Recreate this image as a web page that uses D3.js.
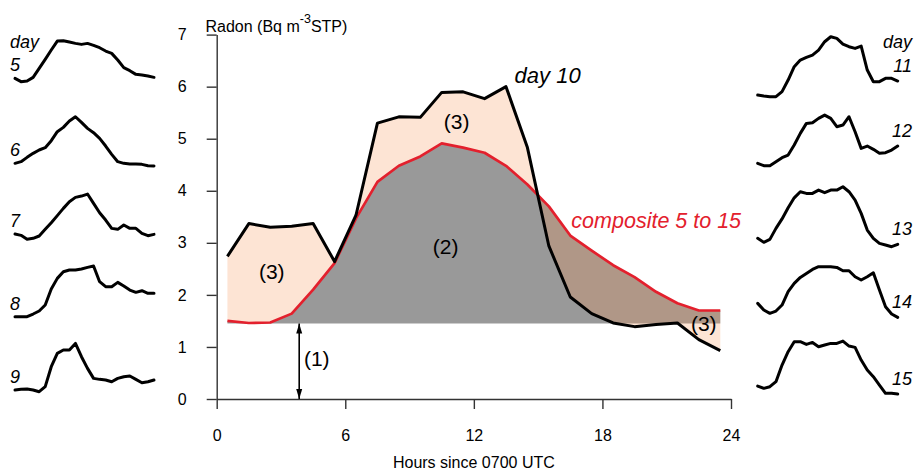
<!DOCTYPE html>
<html>
<head>
<meta charset="utf-8">
<script src="https://cdn.jsdelivr.net/npm/d3@7"></script>
<style>
  body { margin: 0; background: #fff; }
  text { font-family: "Liberation Sans", Arial, Helvetica, sans-serif; }
</style>
</head>
<body>
<svg id="chart" width="916" height="470"></svg>
<script>
// Hourly radon, half-hour centres, hours since 0700 UTC
const hours = [0.5, 1.5, 2.5, 3.5, 4.5, 5.5, 6.5, 7.5, 8.5, 9.5, 10.5, 11.5,
               12.5, 13.5, 14.5, 15.5, 16.5, 17.5, 18.5, 19.5, 20.5, 21.5, 22.5, 23.5];

// Main panel: day 10 and the composite of days 5 to 15 (Bq m-3 STP)
const day10 = [2.74, 3.37, 3.30, 3.32, 3.37, 2.64, 3.53, 5.30, 5.42, 5.41, 5.89, 5.90,
               5.77, 6.00, 4.83, 2.94, 1.96, 1.64, 1.46, 1.39, 1.43, 1.46, 1.14, 0.93];
const composite = [1.50, 1.46, 1.47, 1.64, 2.10, 2.61, 3.47, 4.17, 4.48, 4.66, 4.91, 4.83,
                   4.73, 4.48, 4.12, 3.70, 3.14, 2.85, 2.57, 2.34, 2.06, 1.84, 1.70, 1.70];
const floorLevel = 1.45;   // (1) background level

// Small panels, one series per day
const day5  = [1.41, 1.11, 1.17, 1.50, 2.31, 3.12, 3.96, 4.77, 4.80, 4.68, 4.56, 4.47,
               4.56, 4.38, 4.17, 3.87, 3.66, 3.06, 2.37, 2.10, 1.77, 1.71, 1.62, 1.50];
const day6  = [0.78, 0.93, 1.32, 1.68, 1.98, 2.19, 2.82, 3.63, 4.02, 4.59, 4.98, 4.47,
               3.93, 3.54, 3.03, 2.34, 1.59, 0.93, 0.78, 0.72, 0.72, 0.69, 0.57, 0.54];
const day7  = [1.44, 1.32, 0.96, 1.05, 1.26, 1.86, 2.45, 3.10, 3.75, 4.35, 4.74, 4.86,
               5.04, 4.20, 3.36, 2.70, 1.95, 1.86, 2.25, 1.95, 1.95, 1.50, 1.29, 1.41];
const day8  = [1.02, 1.02, 1.02, 1.26, 1.53, 2.07, 3.51, 4.47, 5.07, 5.22, 5.22, 5.31,
               5.46, 5.58, 4.17, 3.72, 3.72, 4.11, 3.78, 3.42, 3.21, 3.36, 3.12, 3.12];
const day9  = [1.44, 1.50, 1.53, 1.44, 1.29, 1.74, 3.54, 4.74, 5.04, 5.04, 5.64, 4.44,
               3.39, 2.49, 2.40, 2.34, 2.19, 2.49, 2.64, 2.70, 2.40, 2.10, 2.19, 2.34];
const day11 = [0.81, 0.72, 0.66, 0.66, 1.11, 2.16, 3.36, 3.96, 4.20, 4.41, 4.86, 5.61,
               6.06, 5.91, 5.40, 5.16, 5.01, 5.22, 3.06, 2.01, 2.01, 2.31, 2.31, 2.07];
const day12 = [1.68, 1.47, 1.47, 1.83, 2.19, 2.43, 3.33, 4.38, 5.28, 5.34, 5.73, 6.03,
               5.73, 4.98, 5.13, 5.88, 4.53, 3.03, 3.24, 2.94, 2.58, 2.64, 2.88, 3.24];
const day13 = [1.95, 1.59, 1.86, 2.85, 3.70, 4.70, 5.60, 6.15, 6.00, 6.00, 6.30, 6.06,
               6.30, 6.30, 6.60, 6.15, 5.40, 4.20, 2.70, 1.95, 1.50, 1.35, 1.20, 1.41];
const day14 = [3.12, 2.52, 2.22, 2.43, 2.97, 4.17, 4.92, 5.46, 5.82, 6.18, 6.42, 6.42,
               6.42, 6.36, 6.06, 6.06, 5.52, 5.22, 5.52, 5.88, 4.32, 2.82, 2.16, 1.86];
const day15 = [2.70, 2.49, 2.64, 3.09, 4.59, 5.79, 6.69, 6.69, 6.45, 6.63, 6.24, 6.39,
               6.54, 6.54, 6.75, 6.30, 6.18, 5.04, 4.14, 3.54, 2.79, 2.04, 2.04, 1.98];

const leftDays  = ["5", "6", "7", "8", "9"];
const rightDays = ["11", "12", "13", "14", "15"];
const leftSeries  = [day5, day6, day7, day8, day9];
const rightSeries = [day11, day12, day13, day14, day15];

const xTicks = [0, 6, 12, 18, 24];
const yTicks = [0, 1, 2, 3, 4, 5, 6, 7];

// ---------------------------------------------------------------------------
const svg = d3.select("#chart");
const ink = "#000";
const red = "#e3202d";

// main panel scales
const x = d3.scaleLinear().domain([0, 24]).range([216.7, 731]);
const y = d3.scaleLinear().domain([0, 7]).range([399, 34.6]);

const rows = hours.map((h, i) => ({ h, d10: day10[i], comp: composite[i] }));

// (2) grey: above the background level, below the composite
svg.append("path")
  .datum(rows)
  .attr("fill", "#999999")
  .attr("d", d3.area()
    .x(d => x(d.h))
    .y0(y(floorLevel))
    .y1(d => y(d.comp)));

// (3) translucent orange between day 10 and the composite
svg.append("path")
  .datum(rows)
  .attr("fill", "rgb(247,147,83)")
  .attr("fill-opacity", 0.25)
  .attr("d", d3.area()
    .x(d => x(d.h))
    .y0(d => y(d.comp))
    .y1(d => y(d.d10)));

// composite line
svg.append("path")
  .datum(rows)
  .attr("fill", "none")
  .attr("stroke", red)
  .attr("stroke-width", 2.7)
  .attr("stroke-linejoin", "round")
  .attr("d", d3.line().x(d => x(d.h)).y(d => y(d.comp)));

// day 10 line
svg.append("path")
  .datum(rows)
  .attr("fill", "none")
  .attr("stroke", ink)
  .attr("stroke-width", 3)
  .attr("stroke-linejoin", "round")
  .attr("d", d3.line().x(d => x(d.h)).y(d => y(d.d10)));

// axes
const axisColor = "#333";
const gx = svg.append("g")
  .attr("transform", `translate(0,${y(0)})`)
  .call(d3.axisBottom(x).tickValues(xTicks).tickFormat(d3.format("d"))
    .tickSize(10).tickSizeOuter(0).tickPadding(21));
const gy = svg.append("g")
  .attr("transform", `translate(${x(0)},0)`)
  .call(d3.axisLeft(y).tickValues(yTicks).tickFormat(d3.format("d"))
    .tickSize(10).tickSizeOuter(0).tickPadding(20));
[gx, gy].forEach(g => {
  g.selectAll("path, line").attr("stroke", axisColor).attr("stroke-width", 1.4);
  g.selectAll("text").attr("fill", ink).style("font-size", "16px");
});

// axis titles
svg.append("text")
  .attr("x", (x(0) + x(24)) / 2).attr("y", 468)
  .attr("text-anchor", "middle").style("font-size", "16px")
  .text("Hours since 0700 UTC");

const yTitle = svg.append("text")
  .attr("x", 205.5).attr("y", 31.7).style("font-size", "16px");
yTitle.append("tspan").text("Radon (Bq m");
yTitle.append("tspan").attr("dy", -9).style("font-size", "12.5px").text("-3");
yTitle.append("tspan").attr("dy", 9).text("STP)");

// (1) background arrow
const defs = svg.append("defs");
defs.append("marker")
  .attr("id", "head")
  .attr("viewBox", "0 -5 10 10")
  .attr("refX", 10).attr("refY", 0)
  .attr("markerUnits", "userSpaceOnUse")
  .attr("markerWidth", 10).attr("markerHeight", 10)
  .attr("orient", "auto-start-reverse")
  .append("path").attr("d", "M0,-3L10,0L0,3Z").attr("fill", ink);

svg.append("line")
  .attr("x1", x(3.85)).attr("x2", x(3.85))
  .attr("y1", y(0)).attr("y2", y(floorLevel))
  .attr("stroke", ink).attr("stroke-width", 1.6)
  .attr("marker-start", "url(#head)")
  .attr("marker-end", "url(#head)");

// region labels
const regionLabels = [
  { t: "(1)", h: 4.67, v: 0.78 },
  { t: "(2)", h: 10.68, v: 2.93 },
  { t: "(3)", h: 2.57, v: 2.45 },
  { t: "(3)", h: 11.2, v: 5.33 },
  { t: "(3)", h: 22.73, v: 1.44 }
];
svg.selectAll("text.region")
  .data(regionLabels)
  .join("text")
  .attr("class", "region")
  .attr("x", d => x(d.h)).attr("y", d => y(d.v))
  .attr("text-anchor", "middle").attr("dy", "0.35em")
  .style("font-size", "21px")
  .text(d => d.t);

svg.append("text")
  .attr("x", x(13.9)).attr("y", y(6.0) - 4)
  .style("font-size", "22px").style("font-style", "italic")
  .text("day 10");

svg.append("text")
  .attr("x", x(16.55)).attr("y", y(3.29))
  .attr("fill", red)
  .style("font-size", "21.5px").style("font-style", "italic")
  .text("composite 5 to 15");

// ---------------------------------------------------------------------------
// small panels of the individual days
const panelStep = 78;
const sxLeft  = d3.scaleLinear().domain([0.5, 23.5]).range([15, 154]);
const sxRight = d3.scaleLinear().domain([0.5, 23.5]).range([757.7, 897.7]);
const panelY = bottom => d3.scaleLinear().domain([0, 7]).range([bottom, bottom - 77.7]);

function drawPanels(series, names, sx, firstBottom, side) {
  series.forEach((vals, i) => {
    const sy = panelY(firstBottom + i * panelStep);
    svg.append("path")
      .datum(vals)
      .attr("fill", "none")
      .attr("stroke", ink)
      .attr("stroke-width", 3)
      .attr("stroke-linejoin", "round")
      .attr("stroke-linecap", "round")
      .attr("d", d3.line().x((d, k) => sx(hours[k])).y(d => sy(d)));

    const label = svg.append("text")
      .style("font-size", "18px").style("font-style", "italic")
      .text(names[i]);
    if (side === "left") {
      label.attr("x", 10).attr("y", sy(vals[0]) - 7);
    } else {
      label.attr("x", 912).attr("text-anchor", "end").attr("y", sy(vals[vals.length - 1]) - 9);
    }
  });
}

drawPanels(leftSeries, leftDays, sxLeft, 94, "left");
drawPanels(rightSeries, rightDays, sxRight, 104, "right");

svg.append("text").attr("x", 10).attr("y", 48)
  .style("font-size", "18px").style("font-style", "italic").text("day");
svg.append("text").attr("x", 912).attr("y", 48).attr("text-anchor", "end")
  .style("font-size", "18px").style("font-style", "italic").text("day");
</script>
</body>
</html>
